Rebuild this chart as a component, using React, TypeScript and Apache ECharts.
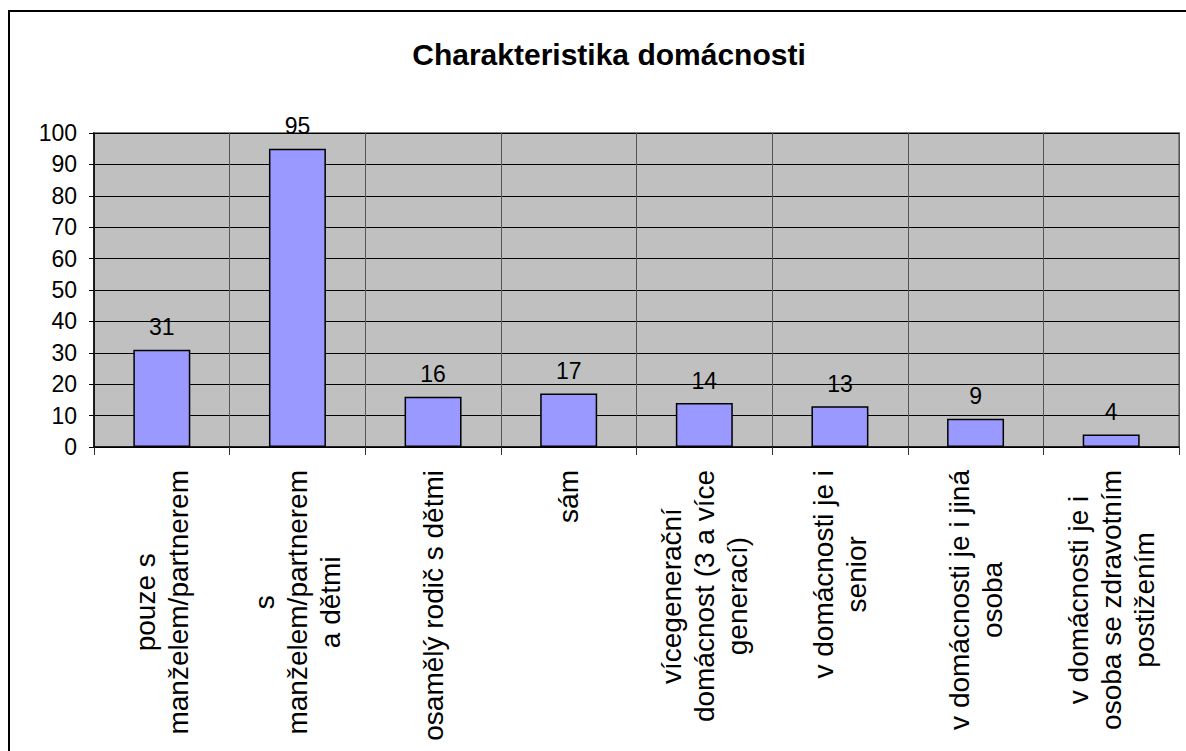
import React, { useEffect, useRef } from "react";
import * as echarts from "echarts";

const categories = [
  "pouze s\nmanželem/partnerem",
  "s\nmanželem/partnerem\na dětmi",
  "osamělý rodič s dětmi",
  "sám",
  "vícegenerační\ndomácnost (3 a více\ngenerací)",
  "v domácnosti je i\nsenior",
  "v domácnosti je i jiná\nosoba",
  "v domácnosti je i\nosoba se zdravotním\npostižením",
];
const values = [31, 95, 16, 17, 14, 13, 9, 4];
const titleText = "Charakteristika domácnosti";

const FONT = "'Liberation Sans', Arial, sans-serif";

export default function App() {
  const ref = useRef<HTMLDivElement>(null);
  useEffect(() => {
    if (!ref.current) return;
    const chart = echarts.init(ref.current, null, { renderer: "svg" });
    chart.setOption({
      animation: false,
      backgroundColor: "#ffffff",
      title: {
        text: titleText,
        left: 604,
        top: 34,
        textAlign: "center",
        textStyle: { fontFamily: FONT, fontSize: 30, fontWeight: "bold", color: "#000" },
      },
      graphic: [
        {
          type: "rect",
          shape: { x: 9, y: 11, width: 1300, height: 900 },
          style: { fill: "none", stroke: "#000", lineWidth: 2 },
          z: 100,
        },
      ],
      grid: {
        left: 94,
        right: 7,
        top: 133,
        bottom: 304,
        show: true,
        backgroundColor: "#C0C0C0",
        borderColor: "#808080",
        borderWidth: 2,
      },
      xAxis: {
        type: "category",
        data: categories,
        boundaryGap: true,
        axisLine: { lineStyle: { color: "#000", width: 1.5 } },
        axisTick: { show: true, length: 8, alignWithLabel: false, lineStyle: { color: "#333" } },
        splitLine: { show: true, lineStyle: { color: "#555", width: 1 } },
        axisLabel: {
          interval: 0,
          rotate: 90,
          margin: 23,
          color: "#000",
          fontFamily: FONT,
          fontSize: 28,
          lineHeight: 33,
          formatter: (v: string) => v.split("\n").map((l) => `{c|${l}}`).join("\n"),
          rich: {
            c: { align: "center", fontFamily: FONT, fontSize: 28, lineHeight: 33, color: "#000" },
          },
        },
      },
      yAxis: {
        type: "value",
        min: 0,
        max: 100,
        interval: 10,
        axisLine: { show: true, lineStyle: { color: "#000", width: 1.5 } },
        axisTick: { show: true, length: 5, lineStyle: { color: "#000" } },
        splitLine: { show: true, lineStyle: { color: "#000", width: 1 } },
        axisLabel: { margin: 17, color: "#000", fontFamily: FONT, fontSize: 23 },
      },
      series: [
        {
          type: "bar",
          data: values,
          barWidth: "42%",
          itemStyle: { color: "#9999FF", borderColor: "#000", borderWidth: 1.5 },
          label: {
            show: true,
            position: "top",
            distance: 11,
            color: "#000",
            fontFamily: FONT,
            fontSize: 23,
          },
        },
      ],
    });
    return () => chart.dispose();
  }, []);
  return (
    <div
      ref={ref}
      style={{ position: "fixed", left: 0, top: 0, width: 1186, height: 751 }}
    />
  );
}
